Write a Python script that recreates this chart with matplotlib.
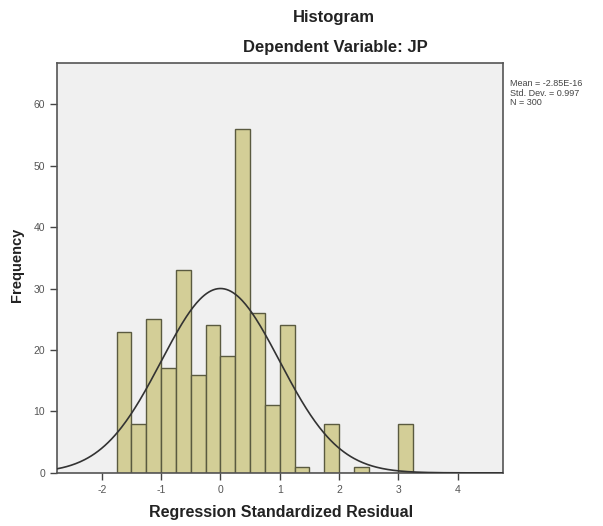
import numpy as np
from matplotlib import pyplot as plt

plt.rcParams['font.family'] = ['Liberation Sans', 'DejaVu Sans']
plt.rcParams['axes.unicode_minus'] = False

# residual histogram bins (left edge) and counts
bin_lefts = [-1.75, -1.5, -1.25, -1.0, -0.75, -0.5, -0.25, 0.0, 0.25, 0.5,
             0.75, 1.0, 1.25, 1.5, 1.75, 2.0, 2.25, 2.5, 2.75, 3.0]
counts = [23, 8, 25, 17, 33, 16, 24, 19, 56, 26,
          11, 24, 1, 0, 8, 0, 1, 0, 0, 8]
bin_width = 0.25

mean = -2.85e-16
std = 0.997
n = 300

x_ticks = [-2, -1, 0, 1, 2, 3, 4]
y_ticks = [0, 10, 20, 30, 40, 50, 60]

fig = plt.figure(figsize=(6.03, 5.26), dpi=100)
fig.patch.set_facecolor('white')
ax = fig.add_axes([0.094, 0.101, 0.740, 0.779])
ax.set_facecolor('#f0f0f0')

ax.bar(bin_lefts, counts, width=bin_width, align='edge',
       color='#d3ce97', edgecolor='#5a5a40', linewidth=1.0, zorder=2)

# fitted normal curve scaled to counts
xs = np.linspace(-2.76, 4.76, 400)
ys = n * bin_width / (std * np.sqrt(2 * np.pi)) * np.exp(-0.5 * ((xs - mean) / std) ** 2)
ax.plot(xs, ys, color='#333333', linewidth=1.2, zorder=3)

ax.set_xlim(-2.76, 4.76)
ax.set_ylim(0, 66.7)
ax.set_xticks(x_ticks)
ax.set_yticks(y_ticks)
ax.tick_params(axis='both', direction='out', length=5, width=1,
               color='#444444', labelsize=7.5, labelcolor='#555555')
for s in ax.spines.values():
    s.set_color('#555555')
    s.set_linewidth(1.2)

fig.text(0.466, 0.025, 'Regression Standardized Residual', ha='center', va='center',
         fontsize=11.5, fontweight='bold', color='#222222')
fig.text(0.028, 0.496, 'Frequency', ha='center', va='center', rotation=90,
         fontsize=10.5, fontweight='bold', color='#222222')

fig.text(0.554, 0.966, 'Histogram', ha='center', va='center',
         fontsize=12, fontweight='bold', color='#222222')
fig.text(0.556, 0.909, 'Dependent Variable: JP', ha='center', va='center',
         fontsize=12, fontweight='bold', color='#222222')

fig.text(0.845, 0.823, 'Mean = -2.85E-16\nStd. Dev. = 0.997\nN = 300',
         ha='left', va='center', fontsize=6.5, color='#444444', linespacing=1.1)

plt.savefig('out.png', dpi=100)
